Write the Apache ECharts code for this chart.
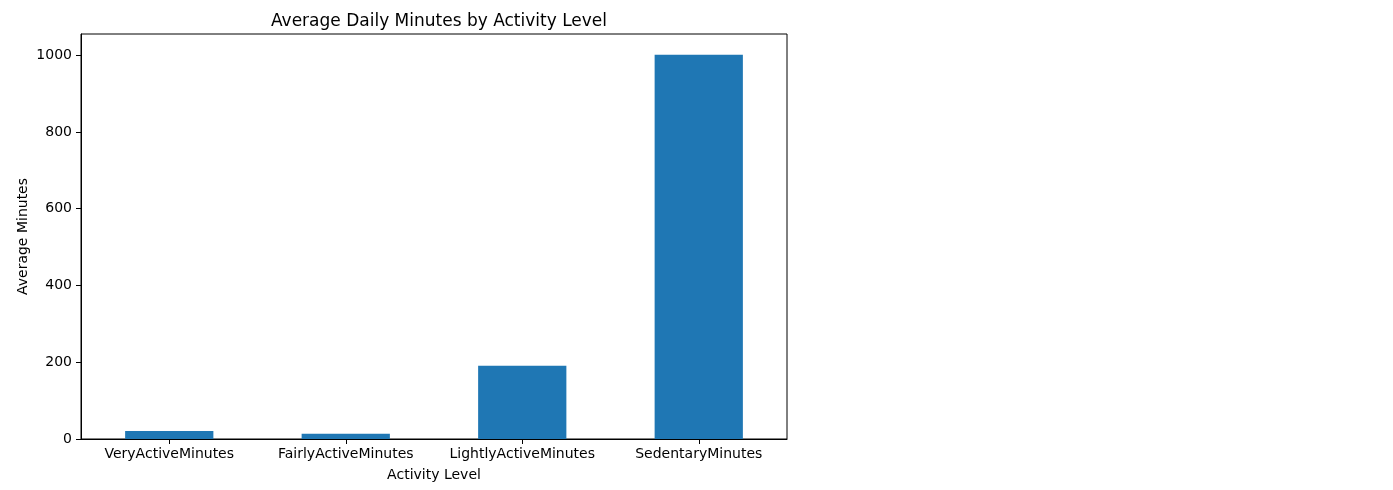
<!DOCTYPE html>
<head>
    <meta charset="utf-8">
    <title>ECharts</title>
    <script type="text/javascript" src="https://cdn.jsdelivr.net/npm/echarts@6/dist/echarts.min.js"></script>
</head>
<body style="margin:0">
    <div id="main" style="width:1393px;height:490px"></div>
    <script type="text/javascript">
     var categories = ['VeryActiveMinutes', 'FairlyActiveMinutes', 'LightlyActiveMinutes', 'SedentaryMinutes'];
     var avgMinutes = [21, 14, 191, 1001];
     var yTicks = [0, 200, 400, 600, 800, 1000];

     var myChart = echarts.init(document.getElementById('main'));
     var font = 'DejaVu Sans';
     myChart.setOption({
         animation: false,
         title: {
             text: 'Average Daily Minutes by Activity Level',
             left: 434, top: 8, textAlign: 'center',
             textStyle: { fontFamily: font, fontSize: 17, fontWeight: 'normal', color: '#000' }
         },
         grid: {
             left: 81, right: 606, top: 34, bottom: 51,
             show: true, borderColor: '#000', borderWidth: 1
         },
         xAxis: {
             type: 'category',
             data: categories,
             name: 'Activity Level',
             nameLocation: 'middle',
             nameGap: 29,
             nameTextStyle: { fontFamily: font, fontSize: 14, color: '#000' },
             axisLine: { lineStyle: { color: '#000' } },
             axisTick: { show: true, alignWithLabel: true, inside: false, length: 5, lineStyle: { color: '#000', width: 1 } },
             axisLabel: { fontFamily: font, fontSize: 14, color: '#000', margin: 8, interval: 0, hideOverlap: false }
         },
         yAxis: {
             type: 'value',
             min: 0, max: 1055, interval: 200,
             name: 'Average Minutes',
             nameLocation: 'middle',
             nameGap: 51,
             nameMoveOverlap: false,
             nameTextStyle: { fontFamily: font, fontSize: 14, color: '#000' },
             splitLine: { show: false },
             axisLine: { show: true, lineStyle: { color: '#000' } },
             axisTick: { show: true, inside: false, length: 5, customValues: yTicks, lineStyle: { color: '#000', width: 1 } },
             axisLabel: {
                 fontFamily: font, fontSize: 14, color: '#000', margin: 9,
                 customValues: yTicks,
                 formatter: function (v) { return String(v); }
             }
         },
         series: [{
             name: 'Average Minutes',
             type: 'bar',
             barWidth: '50%',
             itemStyle: { color: '#1f77b4' },
             data: avgMinutes
         }]
     });
    </script>
</body>
